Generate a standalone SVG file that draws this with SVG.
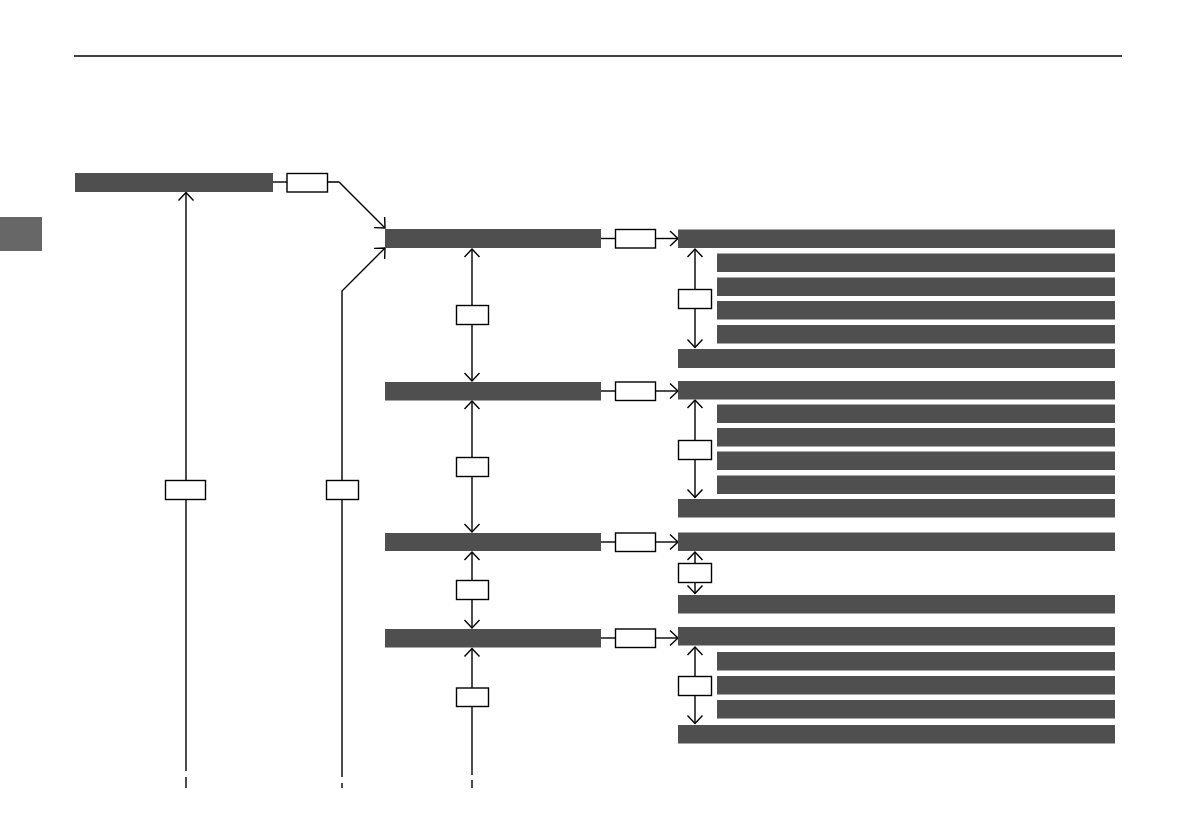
<svg xmlns="http://www.w3.org/2000/svg" width="1191" height="839" viewBox="0 0 1191 839">
<style>
.bar{fill:#4f4f4f}
.box{fill:#fff;stroke:#000;stroke-width:1.4}
.ln{fill:none;stroke:#000;stroke-width:1.4}
.arr{marker-end:url(#ah)}
.arr2{marker-start:url(#ah);marker-end:url(#ah)}
</style>
<defs>
<marker id="ah" markerUnits="userSpaceOnUse" viewBox="-10 -9 12 18" refX="0" refY="0" markerWidth="12" markerHeight="18" orient="auto-start-reverse">
<path d="M-8,-7.5 L0,0 L-8,7.5" fill="none" stroke="#000" stroke-width="1.4"/>
</marker>
</defs>
<rect width="1191" height="839" fill="#fff"/>
<line x1="74" y1="56" x2="1122" y2="56" stroke="#000" stroke-width="1.6"/>
<rect x="0" y="217" width="42" height="34" fill="#676767"/>

<g id="connectors">
<path class="ln" d="M273,182 H287"/>
<path class="ln arr" d="M327,182 H339 L385,228"/>
<path class="ln arr" d="M186,771 V192.5"/>
<line class="ln" x1="186" y1="777" x2="186" y2="788"/>
<path class="ln arr" d="M342,777 V291 L385,248"/>
<line class="ln" x1="342" y1="783" x2="342" y2="788"/>
<path class="ln arr2" d="M472,249 V381"/>
<path class="ln arr2" d="M472,401 V532"/>
<path class="ln arr2" d="M472,552 V628"/>
<path class="ln arr" d="M472,775 V648.5"/>
<line class="ln" x1="472" y1="780" x2="472" y2="788"/>
<path class="ln" d="M601,238.5 H615"/>
<path class="ln arr" d="M655,238.5 H678"/>
<path class="ln" d="M601,391 H615"/>
<path class="ln arr" d="M655,391 H678"/>
<path class="ln" d="M601,542 H615"/>
<path class="ln arr" d="M655,542 H678"/>
<path class="ln" d="M601,638 H615"/>
<path class="ln arr" d="M655,638 H678"/>
<path class="ln arr2" d="M695,249 V347.5"/>
<path class="ln arr2" d="M695,400 V497.5"/>
<path class="ln arr2" d="M695,552 V593.5"/>
<path class="ln arr2" d="M695,647 V723.5"/>
</g>

<g id="n-top"><rect class="bar" x="75" y="173" width="198" height="19"/></g>
<g id="n-topbox"><rect class="box" x="287" y="173.5" width="40.5" height="18.5"/></g>
<g id="n-leftbox1"><rect class="box" x="165.5" y="480.5" width="40" height="19"/></g>
<g id="n-leftbox2"><rect class="box" x="326.5" y="480.5" width="32" height="19"/></g>

<g id="n-main1"><rect class="bar" x="385" y="229" width="216" height="19"/></g>
<g id="n-main2"><rect class="bar" x="385" y="382" width="216" height="18.5"/></g>
<g id="n-main3"><rect class="bar" x="385" y="533" width="216" height="18"/></g>
<g id="n-main4"><rect class="bar" x="385" y="629" width="216" height="18.5"/></g>

<g id="n-vbox1"><rect class="box" x="456.5" y="305.5" width="32" height="19"/></g>
<g id="n-vbox2"><rect class="box" x="456.5" y="457.5" width="32" height="19"/></g>
<g id="n-vbox3"><rect class="box" x="456.5" y="580.5" width="32" height="19"/></g>
<g id="n-vbox4"><rect class="box" x="456.5" y="688" width="32" height="18.5"/></g>

<g id="n-hbox1"><rect class="box" x="615.5" y="229.5" width="40" height="18.5"/></g>
<g id="n-hbox2"><rect class="box" x="615.5" y="382" width="40" height="18.5"/></g>
<g id="n-hbox3"><rect class="box" x="615.5" y="533" width="40" height="18.5"/></g>
<g id="n-hbox4"><rect class="box" x="615.5" y="629" width="40" height="18.5"/></g>

<g id="n-g1">
<rect class="bar" x="678" y="229.5" width="437" height="18.5"/>
<rect class="bar" x="717" y="253.5" width="398" height="18.5"/>
<rect class="bar" x="717" y="277.5" width="398" height="18.5"/>
<rect class="bar" x="717" y="301" width="398" height="18.5"/>
<rect class="bar" x="717" y="325" width="398" height="18.5"/>
<rect class="bar" x="678" y="349" width="437" height="19"/>
</g>
<g id="n-g1box"><rect class="box" x="678.5" y="289.5" width="33" height="19"/></g>

<g id="n-g2">
<rect class="bar" x="678" y="381" width="437" height="18.5"/>
<rect class="bar" x="717" y="404.5" width="398" height="18.5"/>
<rect class="bar" x="717" y="428" width="398" height="18.5"/>
<rect class="bar" x="717" y="451.5" width="398" height="18.5"/>
<rect class="bar" x="717" y="475.5" width="398" height="18.5"/>
<rect class="bar" x="678" y="499" width="437" height="18.5"/>
</g>
<g id="n-g2box"><rect class="box" x="678.5" y="440.5" width="33" height="19"/></g>

<g id="n-g3">
<rect class="bar" x="678" y="532.5" width="437" height="18.5"/>
<rect class="bar" x="678" y="595" width="437" height="18.5"/>
</g>
<g id="n-g3box"><rect class="box" x="678.5" y="563.5" width="33" height="19"/></g>

<g id="n-g4">
<rect class="bar" x="678" y="627" width="437" height="18.5"/>
<rect class="bar" x="717" y="652" width="398" height="18.5"/>
<rect class="bar" x="717" y="676" width="398" height="18.5"/>
<rect class="bar" x="717" y="700" width="398" height="18.5"/>
<rect class="bar" x="678" y="725" width="437" height="18.5"/>
</g>
<g id="n-g4box"><rect class="box" x="678.5" y="676.5" width="33" height="19"/></g>
</svg>
